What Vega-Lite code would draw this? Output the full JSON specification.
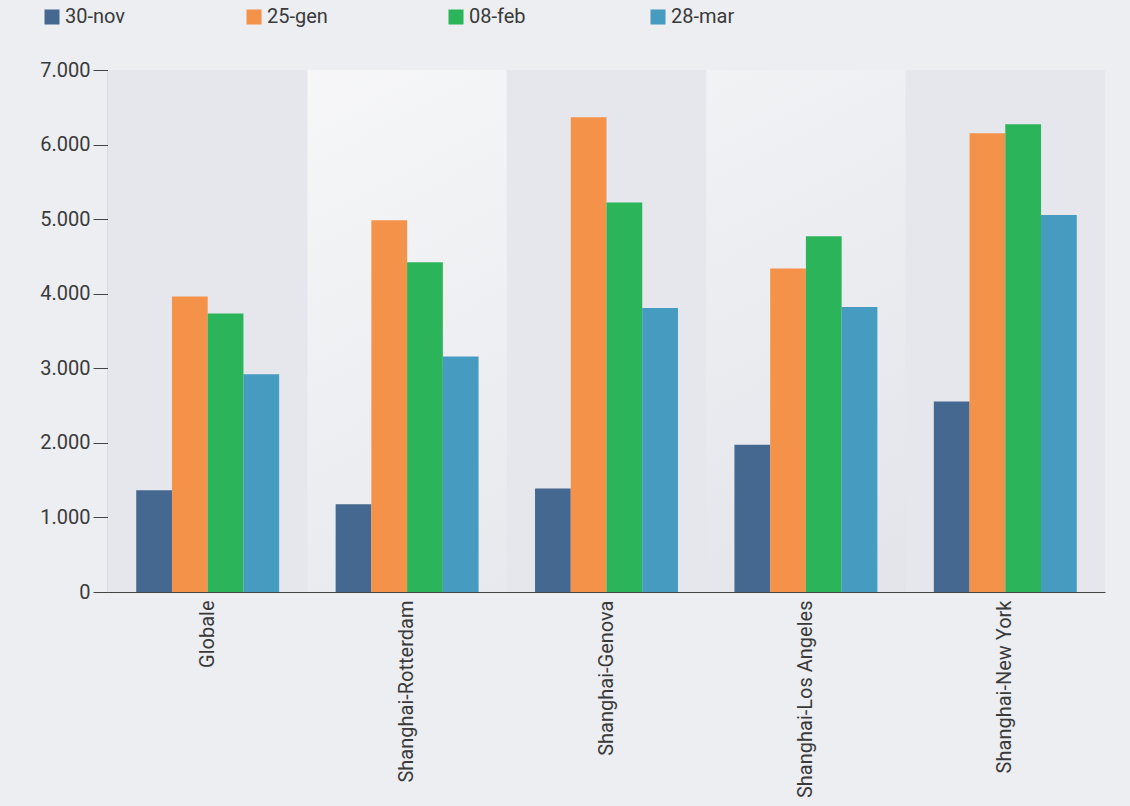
{
  "$schema": "https://vega.github.io/schema/vega-lite/v6.json",
  "width": 997,
  "height": 522,
  "autosize": {"type": "none"},
  "padding": {"left": 108, "top": 70, "right": 25, "bottom": 214},
  "background": "#eceef2",
  "config": {
    "view": {"stroke": null, "fill": {"gradient": "linear", "x1": 0, "y1": 0, "x2": 1, "y2": 1, "stops": [{"offset": 0, "color": "#f9f9fa"}, {"offset": 1, "color": "#e0e2e8"}]}},
    "font": "Roboto",
    "locale": {"number": {"decimal": ",", "thousands": ".", "grouping": [3], "currency": ["€", ""]}}
  },
  "datasets": {
    "bands": [
      {"tratta": "Globale"},
      {"tratta": "Shanghai-Genova"},
      {"tratta": "Shanghai-New York"}
    ],
    "bars": [
      {"tratta": "Globale", "data": "30-nov", "valore": 1364},
      {"tratta": "Globale", "data": "25-gen", "valore": 3964},
      {"tratta": "Globale", "data": "08-feb", "valore": 3735},
      {"tratta": "Globale", "data": "28-mar", "valore": 2921},
      {"tratta": "Shanghai-Rotterdam", "data": "30-nov", "valore": 1176},
      {"tratta": "Shanghai-Rotterdam", "data": "25-gen", "valore": 4985},
      {"tratta": "Shanghai-Rotterdam", "data": "08-feb", "valore": 4422},
      {"tratta": "Shanghai-Rotterdam", "data": "28-mar", "valore": 3159},
      {"tratta": "Shanghai-Genova", "data": "30-nov", "valore": 1388},
      {"tratta": "Shanghai-Genova", "data": "25-gen", "valore": 6368},
      {"tratta": "Shanghai-Genova", "data": "08-feb", "valore": 5224},
      {"tratta": "Shanghai-Genova", "data": "28-mar", "valore": 3809},
      {"tratta": "Shanghai-Los Angeles", "data": "30-nov", "valore": 1974},
      {"tratta": "Shanghai-Los Angeles", "data": "25-gen", "valore": 4339},
      {"tratta": "Shanghai-Los Angeles", "data": "08-feb", "valore": 4772},
      {"tratta": "Shanghai-Los Angeles", "data": "28-mar", "valore": 3823},
      {"tratta": "Shanghai-New York", "data": "30-nov", "valore": 2555},
      {"tratta": "Shanghai-New York", "data": "25-gen", "valore": 6151},
      {"tratta": "Shanghai-New York", "data": "08-feb", "valore": 6271},
      {"tratta": "Shanghai-New York", "data": "28-mar", "valore": 5054}
    ]
  },
  "layer": [
    {
      "data": {"name": "bands"},
      "mark": {"type": "rect", "color": "#e5e7ec"},
      "encoding": {
        "x": {"field": "tratta", "type": "nominal", "scale": {"domain": ["Globale", "Shanghai-Rotterdam", "Shanghai-Genova", "Shanghai-Los Angeles", "Shanghai-New York"], "paddingInner": 0, "paddingOuter": 0}},
        "y": {"datum": 7000, "type": "quantitative"},
        "y2": {"datum": 0}
      }
    },
    {
      "data": {"name": "bars"},
      "mark": {"type": "bar"},
      "encoding": {
        "x": {
          "field": "tratta", "type": "nominal",
          "scale": {"domain": ["Globale", "Shanghai-Rotterdam", "Shanghai-Genova", "Shanghai-Los Angeles", "Shanghai-New York"], "paddingInner": 0, "paddingOuter": 0},
          "axis": {"title": null, "labelAngle": -90, "labelAlign": "right", "labelBaseline": "middle", "ticks": false, "labelPadding": 8, "labelFontSize": 20, "labelColor": "#3a3a3a", "domainColor": "#444444", "domainWidth": 1.2, "labelLimit": 300}
        },
        "xOffset": {"field": "data", "type": "nominal", "scale": {"domain": ["30-nov", "25-gen", "08-feb", "28-mar"], "paddingInner": 0, "paddingOuter": 0.79}},
        "y": {
          "field": "valore", "type": "quantitative",
          "scale": {"domain": [0, 7000], "nice": false},
          "axis": {"title": null, "values": [0, 1000, 2000, 3000, 4000, 5000, 6000, 7000], "format": ",d", "grid": false, "tickSize": 15, "tickColor": "#444444", "domainColor": "#444444", "domainWidth": 1.2, "labelFontSize": 20, "labelColor": "#3a3a3a", "labelPadding": 3}
        },
        "color": {
          "field": "data", "type": "nominal",
          "scale": {"domain": ["30-nov", "25-gen", "08-feb", "28-mar"], "range": ["#44688f", "#f5924a", "#2cb45b", "#459bc0"]},
          "legend": {"title": null, "orient": "none", "legendX": -66, "legendY": -63, "direction": "horizontal", "columns": 4, "gridAlign": "all", "columnPadding": 115, "symbolType": "square", "symbolSize": 225, "symbolStrokeWidth": 0, "symbolOpacity": 1, "labelFontSize": 20, "labelColor": "#3a3a3a", "labelOffset": 3}
        }
      }
    }
  ]
}
